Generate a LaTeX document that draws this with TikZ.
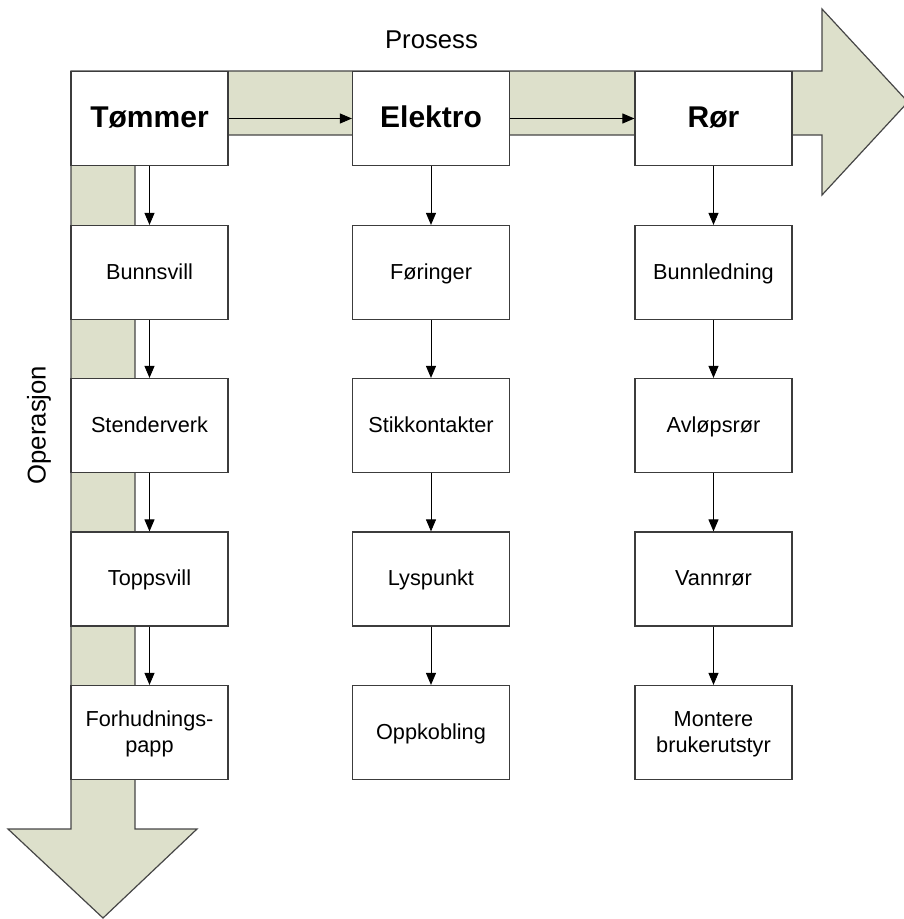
\documentclass[tikz,border=0pt]{standalone}
\usepackage{fontspec}
\setmainfont{Liberation Sans}
\usetikzlibrary{arrows.meta}
\definecolor{bandfill}{RGB}{221,224,203}
\definecolor{bandline}{RGB}{70,70,70}
\definecolor{boxline}{RGB}{60,60,60}
\tikzset{
  stepbox/.style={draw=boxline, line width=1.2pt, fill=white, minimum width=157pt,
    minimum height=94pt, inner sep=0pt, align=center,
    text height=16.3pt, text depth=3.3pt,
    font=\fontsize{21.7}{26}\selectfont},
  twoline/.style={text height=42.3pt},
  headbox/.style={stepbox, text height=22.5pt, text depth=4.5pt,
    font=\fontsize{30}{36}\selectfont\bfseries},
  flow/.style={draw=black, line width=0.9pt, -{Triangle[length=12pt,width=10pt]}},
  caption/.style={font=\fontsize{25.7}{30}\selectfont, inner sep=0pt}
}
\begin{document}
\begin{tikzpicture}[x=1pt, y=-1pt]
\useasboundingbox (0,0) rectangle (904,919);
\begin{scope}
\clip (0,0) rectangle (904,919);
% L-shaped band: process to the right, operation downwards
\draw[fill=bandfill, draw=bandline, line width=1.2pt, line join=miter]
  (71,71) -- (822,71) -- (822,9) -- (908,102) -- (822,195) -- (822,135)
  -- (135,135) -- (135,829) -- (197,829) -- (103,918) -- (8,829) -- (71,829) -- cycle;
\end{scope}

\node[caption] (prosess) at (431.5,40) {Prosess};
\node[caption, rotate=90] (operasjon) at (39,425) {Operasjon};

% column heads
\node[headbox] (t0) at (149.5,118.5) {Tømmer};
\node[headbox] (e0) at (431,118.5) {Elektro};
\node[headbox] (r0) at (713.5,118.5) {Rør};

% Tømmer column
\node[stepbox] (t1) at (149.5,272.5) {Bunnsvill};
\node[stepbox] (t2) at (149.5,425.5) {Stenderverk};
\node[stepbox] (t3) at (149.5,579) {Toppsvill};
\node[stepbox, twoline] (t4) at (149.5,732.5) {Forhudnings-\\papp};

% Elektro column
\node[stepbox] (e1) at (431,272.5) {Føringer};
\node[stepbox] (e2) at (431,425.5) {Stikkontakter};
\node[stepbox] (e3) at (431,579) {Lyspunkt};
\node[stepbox] (e4) at (431,732.5) {Oppkobling};

% Rør column
\node[stepbox] (r1) at (713.5,272.5) {Bunnledning};
\node[stepbox] (r2) at (713.5,425.5) {Avløpsrør};
\node[stepbox] (r3) at (713.5,579) {Vannrør};
\node[stepbox, twoline] (r4) at (713.5,732.5) {Montere\\brukerutstyr};

% connectors
\draw[flow] (t0) -- (e0);
\draw[flow] (e0) -- (r0);
\foreach \c in {t,e,r}{
  \draw[flow] (\c0) -- (\c1);
  \draw[flow] (\c1) -- (\c2);
  \draw[flow] (\c2) -- (\c3);
  \draw[flow] (\c3) -- (\c4);
}
\end{tikzpicture}
\end{document}
